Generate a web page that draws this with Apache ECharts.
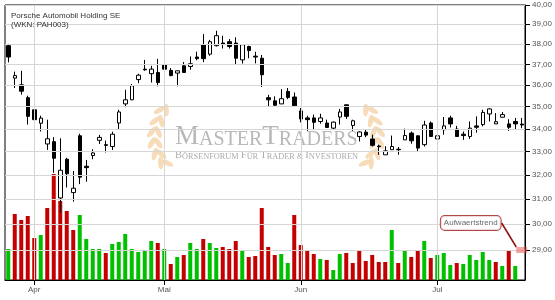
<!DOCTYPE html>
<html><head><meta charset="utf-8">
<script src="https://cdn.jsdelivr.net/npm/echarts@6/dist/echarts.min.js"></script>
<style>html,body{margin:0;padding:0;background:#fff}#c{width:555px;height:300px}</style>
</head><body><div id="c"></div>
<script>
const titleText = 'Porsche Automobil Holding SE';
const subtitleText = '(WKN: PAH003)';

const dates = [
'2025-03-26','2025-03-27','2025-03-28','2025-03-31',
'2025-04-01','2025-04-02','2025-04-03','2025-04-04','2025-04-07','2025-04-08','2025-04-09','2025-04-10','2025-04-11',
'2025-04-14','2025-04-15','2025-04-16','2025-04-17','2025-04-22','2025-04-23','2025-04-24','2025-04-25','2025-04-28','2025-04-29','2025-04-30',
'2025-05-02','2025-05-05','2025-05-06','2025-05-07','2025-05-08','2025-05-09','2025-05-12','2025-05-13','2025-05-14','2025-05-15','2025-05-16',
'2025-05-19','2025-05-20','2025-05-21','2025-05-22','2025-05-23','2025-05-26','2025-05-27','2025-05-28','2025-05-29','2025-05-30',
'2025-06-02','2025-06-03','2025-06-04','2025-06-05','2025-06-06','2025-06-09','2025-06-10','2025-06-11','2025-06-12','2025-06-13',
'2025-06-16','2025-06-17','2025-06-18','2025-06-19','2025-06-20','2025-06-23','2025-06-24','2025-06-25','2025-06-26','2025-06-27','2025-06-30',
'2025-07-01','2025-07-02','2025-07-03','2025-07-04','2025-07-07','2025-07-08','2025-07-09','2025-07-10','2025-07-11',
'2025-07-14','2025-07-15','2025-07-16','2025-07-17','2025-07-18'
];

const opens = [
37.92,36.34,36.02,35.42,34.86,34.25,33.33,33.43,31.05,32.67,
31.27,33.69,32.37,32.83,33.49,33.30,33.22,34.26,35.13,35.32,
36.27,36.77,36.55,36.61,36.98,36.71,36.58,36.93,36.90,37.36,
37.97,37.50,37.92,38.05,38.12,38.05,37.22,37.88,37.40,37.30,
35.42,35.27,35.13,35.71,35.45,34.81,34.49,34.49,34.33,34.26,
34.03,34.53,35.09,34.15,33.66,33.85,33.55,33.24,32.86,33.08,
33.10,33.51,33.81,33.69,33.30,34.26,33.55,33.96,34.49,33.99,
33.76,33.66,34.13,34.19,34.67,34.22,34.52,34.22,34.33,34.21
];
const highs = [
38.01,36.65,36.69,35.51,34.95,34.59,34.41,33.63,33.58,32.73,
32.17,33.78,32.64,33.10,33.73,33.48,33.87,34.86,35.79,36.06,
36.55,37.22,36.93,37.27,37.17,36.82,36.70,37.11,37.39,37.62,
38.50,38.21,38.67,38.42,38.25,38.34,37.97,37.92,37.62,37.46,
35.55,35.48,35.82,35.87,35.66,34.94,34.59,34.64,34.68,34.41,
34.33,34.90,35.09,34.41,33.88,33.99,33.74,33.30,33.23,33.70,
33.20,34.01,33.88,33.70,34.36,34.33,33.69,34.53,34.59,34.13,
33.88,34.33,34.56,34.86,34.93,34.71,34.76,34.43,34.49,34.49
];
const lows = [
37.10,35.87,35.56,34.19,34.26,33.88,33.07,32.09,30.45,31.48,
30.90,31.62,31.72,32.67,33.33,32.96,33.07,33.96,34.98,35.30,
36.10,36.69,36.13,35.95,36.43,36.43,35.95,36.60,36.74,37.20,
37.11,37.42,37.88,37.78,37.78,37.02,37.04,37.30,37.05,35.92,
35.01,35.04,35.13,35.35,35.04,34.29,33.91,33.96,34.23,34.06,
33.96,34.19,34.45,33.91,33.44,33.63,33.22,32.86,32.86,33.08,
32.86,33.51,33.34,32.99,33.22,33.65,33.15,33.74,34.06,33.65,
33.51,33.55,33.83,34.11,34.33,34.22,34.52,33.91,33.96,34.03
];
const closes = [
37.36,36.46,35.72,34.56,34.41,34.48,33.56,32.71,32.20,32.05,
31.45,31.91,32.31,32.94,33.62,33.27,33.76,34.76,35.32,35.98,
36.48,36.74,36.77,36.13,36.77,36.46,36.69,36.61,37.03,37.28,
37.28,38.12,38.42,38.00,37.88,37.30,37.97,37.68,37.36,36.50,
35.32,35.07,35.37,35.43,35.04,34.44,34.41,34.29,34.49,34.06,
34.30,34.76,34.56,34.36,33.86,33.72,33.27,33.21,33.03,33.22,
33.08,33.70,33.47,33.15,34.17,33.66,33.69,34.13,34.22,33.66,
33.70,34.03,34.07,34.74,34.90,34.32,34.64,34.07,34.22,34.17
];

// volume in thousand shares (last day without volume)
const volumes = [
620,1320,1200,1280,840,900,1440,2120,1580,1380,
1000,1300,820,620,620,540,720,760,920,620,
560,600,780,740,620,320,460,500,740,620,
820,740,640,660,620,780,600,460,480,1440,
660,500,520,340,1300,700,600,520,420,400,
200,520,540,340,580,380,500,360,360,1000,
340,600,460,580,780,440,500,540,300,340,
320,500,400,560,400,360,280,600,280,'-'
];
// g = close above previous close, r = below
const volumeDir = [
'g','r','r','r','r','g','r','r','r','r',
'r','g','g','g','g','r','g','g','g','g',
'g','g','g','r','g','r','g','r','g','g',
'r','g','g','r','r','r','g','r','r','r',
'r','r','g','g','r','r','r','r','g','r',
'g','g','r','r','r','r','r','r','r','g',
'r','g','r','r','g','r','g','g','g','r',
'g','g','g','g','g','r','g','r','g','g'
];

const priceTicks = [29,30,31,32,33,34,35,36,37,38,39,40];
const monthTicks = ['2025-04-01','2025-05-02','2025-06-02','2025-07-01'];
const monthLabels = ['Apr','Mai','Jun','Jul'];
const annotationDate = '2025-07-18';
const annotationPrice = 29;
const annotationText = 'Aufwaertstrend';

const FONT = '"Liberation Sans", Arial, sans-serif';
const SERIF = '"Liberation Serif", "DejaVu Serif", serif';
const GREEN = '#00c000';
const RED = '#c40000';
const WHEAT = '#f6d6ad';

function wheat(cx, mirror) {
  // decorative watermark leaves
  const pts = [[163,110,-0.5],[158,121,-0.35],[155,132,-0.15],[155,143,0.05],[158,154,0.3],[164,163,0.6]];
  const out = [];
  pts.forEach(p => {
    let x = p[0], r = p[2];
    if (mirror) { x = 2*cx - x; r = -r; }
    [-0.55, 0.55].forEach(off => {
      out.push({type:'ellipse', z:0, silent:true,
        shape:{cx:0, cy:0, rx:2.6, ry:6.5},
        x: x + (mirror ? -1 : 1) * off * 6, y: p[1], rotation: r + off * (mirror ? -1 : 1),
        style:{fill:WHEAT, opacity:0.85}});
    });
  });
  return out;
}

const chart = echarts.init(document.getElementById('c'), null, {renderer:'canvas'});
const option = {
  animation:false,
  textStyle:{fontFamily:FONT},
  title:{text: titleText + '\n' + subtitleText, left:6, top:6,
    textStyle:{fontSize:8, fontWeight:'normal', color:'#333', lineHeight:9.5, fontFamily:FONT}},
  grid:{left:5, right:30, top:5, bottom:20, show:true, borderColor:'#000', borderWidth:1, outerBoundsMode:'none'},
  graphic: [
    {type:'text', z:0, silent:true, x:175, y:150,
      style:{text:'{a|M}{b|ASTER}{a|T}{b|RADERS}', verticalAlign:'bottom',
        rich:{a:{fontSize:27, fontFamily:SERIF, fill:'#b8b8b8', verticalAlign:'bottom'},
              b:{fontSize:20, fontFamily:SERIF, fill:'#b8b8b8', verticalAlign:'bottom'}}}},
    {type:'text', z:0, silent:true, x:175, y:161,
      style:{text:'{a|B}{b|ÖRSENFORUM }{a|F}{b|ÜR }{a|T}{b|RADER & }{a|I}{b|NVESTOREN}', verticalAlign:'bottom',
        rich:{a:{fontSize:10.5, fontFamily:SERIF, fill:'#ababab', verticalAlign:'bottom'},
              b:{fontSize:8.3, fontFamily:SERIF, fill:'#ababab', verticalAlign:'bottom'}}}}
  ].concat(wheat(266,false)).concat(wheat(266,true)),
  xAxis:{type:'category', data:dates, boundaryGap:true,
    axisLine:{show:true, lineStyle:{color:'#000'}},
    axisTick:{show:true, alignWithLabel:true, length:5, interval:(i,v)=>monthTicks.includes(v), lineStyle:{color:'#000'}},
    axisLabel:{interval:(i,v)=>monthTicks.includes(v), formatter:v=>monthLabels[monthTicks.indexOf(v)] || '',
      fontSize:8, color:'#555', margin:6, fontFamily:FONT},
    splitLine:{show:false}},
  yAxis:[
    {type:'log', logBase:10, min:27.88, max:40, position:'right',
      axisLine:{show:true, lineStyle:{color:'#000'}},
      axisTick:{show:true, length:5, customValues:priceTicks, lineStyle:{color:'#000'}},
      axisLabel:{customValues:priceTicks, formatter:v=>Number(v).toFixed(2).replace('.',','),
        fontSize:8, color:'#555', margin:7, fontFamily:FONT},
      splitLine:{show:false}},
    {type:'value', min:0, max:5500, show:false, splitLine:{show:false}}
  ],
  series:[
    {type:'line', data:[], z:1, silent:true, xAxisIndex:0, yAxisIndex:0,
      markLine:{silent:true, symbol:['none','none'], label:{show:false}, animation:false,
        lineStyle:{color:'#d6d6d6', width:1, type:'solid'},
        emphasis:{disabled:true},
        data: priceTicks.map(v=>({yAxis:v})).concat(monthTicks.map(d=>({xAxis:d})))}},
    {type:'bar', yAxisIndex:1, z:2, barWidth:4, silent:true,
      data: volumes.map((v,i)=>({value:v, itemStyle:{color: volumeDir[i]==='g' ? GREEN : RED}}))},
    {type:'candlestick', yAxisIndex:0, z:3, barWidth:4, silent:true,
      data: dates.map((d,i)=>[opens[i], closes[i], lows[i], highs[i]]),
      itemStyle:{color:'#fff', color0:'#000', borderColor:'#000', borderColor0:'#000', borderColorDoji:'#000', borderWidth:1}},
    {type:'scatter', yAxisIndex:0, z:5, clip:false, silent:true,
      data:[[annotationDate, annotationPrice]], symbol:'rect', symbolSize:[11,6],
      itemStyle:{color:'rgba(238,70,70,0.6)'},
      label:{show:true, position:'inside', formatter:annotationText, color:'#444', fontSize:8, fontFamily:FONT,
        backgroundColor:'#fff', borderColor:'#a01818', borderWidth:1, borderRadius:4, padding:[3,3,3,3]},
      labelLayout:{dx:-51, dy:-27},
      labelLine:{show:true, lineStyle:{color:'#8b1010', width:1.5}}}
  ]
};
chart.setOption(option);
</script>
</body></html>
